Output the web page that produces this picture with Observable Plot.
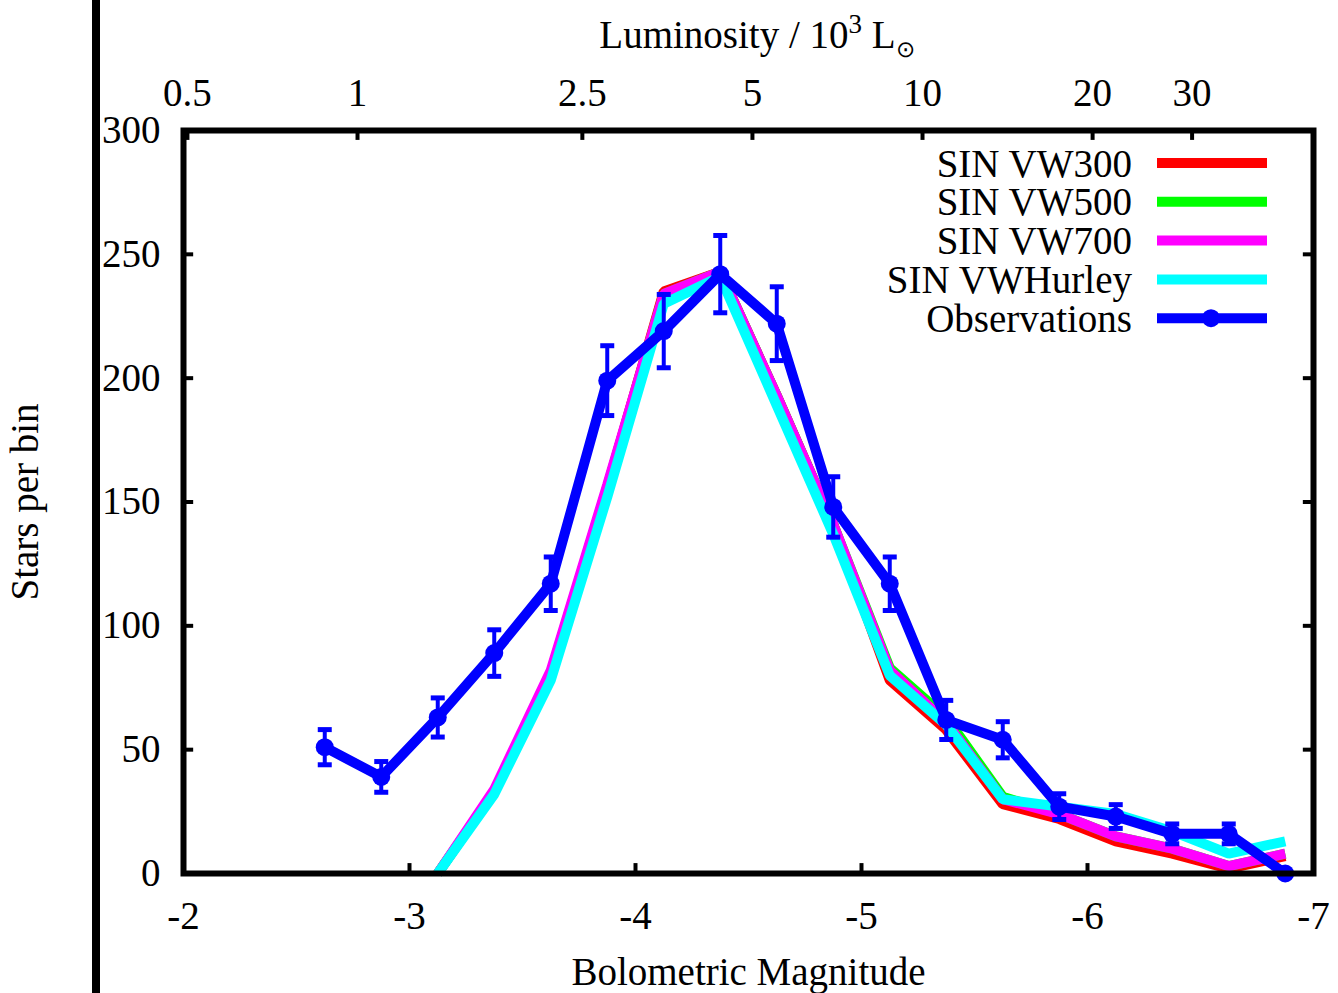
<!DOCTYPE html>
<html><head><meta charset="utf-8">
<script src="https://cdn.jsdelivr.net/npm/d3@7"></script>
<script src="https://cdn.jsdelivr.net/npm/@observablehq/plot@0.6"></script>
<style>
body{margin:0;background:#fff;}
#wrap{position:relative;width:1338px;height:993px;overflow:hidden;}
#bar{position:absolute;left:92px;top:0;width:8px;height:993px;background:#000;z-index:2;}
</style></head><body><div id="wrap"></div>
<script>
// ---- data ----
const obsMag = [-2.625,-2.875,-3.125,-3.375,-3.625,-3.875,-4.125,-4.375,-4.625,-4.875,-5.125,-5.375,-5.625,-5.875,-6.125,-6.375,-6.625,-6.875];
const obsCounts = [51,39,63,89,117,199,219,242,222,148,117,62,54,27,23,16,16,0];
const obsErr = [7.1,6.2,7.9,9.4,10.8,14.1,14.8,15.6,14.9,12.2,10.8,7.9,7.3,5.2,4.8,4.0,4.0,0];

const modelMag = [-3.125,-3.375,-3.625,-3.875,-4.125,-4.375,-4.625,-4.875,-5.125,-5.375,-5.625,-5.875,-6.125,-6.375,-6.625,-6.875];
const vw300 =    [0,33,81,156,235,243,193,141,78,58,28,22,13,8,2,7];
const vw500 =    [0,33,81,156,234,243,193,141,83,63,31,24,15,10,3,8];
const vw700 =    [0,34,82,157,234,243,193,141,82,61,30,24,15,10,3,8];
const vwHurley = [0,32,78,152,230,241,189,137,80,60,30,27,24,17,8,13];

const seriesNames = ["SIN VW300","SIN VW500","SIN VW700","SIN VWHurley","Observations"];
const seriesColors = ["#ff0000","#00ff00","#ff00ff","#00ffff","#0000ff"];

const xTicks = [-2,-3,-4,-5,-6,-7];
const yTicks = [0,50,100,150,200,250,300];
const lumTicks = [0.5,1,2.5,5,10,20,30];   // in 10^3 Lsun
const M_SUN = 4.73;
const lumToMag = L => M_SUN - 2.5*Math.log10(L*1000);

// ---- tables ----
const obs = obsMag.map((m,i)=>({m, n: obsCounts[i], e: obsErr[i]}));
const obsErrPts = obs.filter(d=>d.e>0);
const models = [vw300, vw500, vw700, vwHurley].map(vals => modelMag.map((m,i)=>({m, n: vals[i]})));

const capSymbol = {draw(ctx, size){ const r = Math.sqrt(size/Math.PI); ctx.moveTo(-r,0); ctx.lineTo(r,0); }};
const FS = 39;
const blue = seriesColors[4];

const plot = Plot.plot({
  width:1338, height:993,
  marginLeft:183, marginRight:25, marginTop:130, marginBottom:120,
  style:{fontFamily:"'Liberation Serif','Times New Roman',serif", fontSize:FS+"px", background:"white", color:"black"},
  x:{domain:[-2,-7]},
  y:{domain:[0,300]},
  marks:[
    ...models.map((data,i)=>Plot.line(data,{x:"m", y:"n", stroke:seriesColors[i], strokeWidth:10, strokeLinejoin:"miter", strokeLinecap:"butt"})),
    Plot.ruleX(obsErrPts,{x:"m", y1:d=>d.n-d.e, y2:d=>d.n+d.e, stroke:blue, strokeWidth:4}),
    Plot.dot(obsErrPts,{x:"m", y:d=>d.n+d.e, symbol:capSymbol, r:7, stroke:blue, strokeWidth:5, fill:"none"}),
    Plot.dot(obsErrPts,{x:"m", y:d=>d.n-d.e, symbol:capSymbol, r:7, stroke:blue, strokeWidth:5, fill:"none"}),
    Plot.line(obs,{x:"m", y:"n", stroke:blue, strokeWidth:10, strokeLinejoin:"miter", strokeLinecap:"butt"}),
    Plot.dot(obs,{x:"m", y:"n", r:9, fill:blue}),
    // inward ticks
    Plot.ruleX(xTicks.slice(1,-1),{x:d=>d, y1:0, y2:4, strokeWidth:4}),
    Plot.ruleX(lumTicks,{x:lumToMag, y1:300, y2:296, strokeWidth:4}),
    Plot.ruleY(yTicks.slice(1,-1),{y:d=>d, x1:-2, x2:-2.045, strokeWidth:4}),
    Plot.ruleY(yTicks.slice(1,-1),{y:d=>d, x1:-7, x2:-6.955, strokeWidth:4}),
    Plot.frame({strokeWidth:6}),
    Plot.axisX({anchor:"bottom", ticks:xTicks, tickSize:0, tickPadding:28, tickFormat:d=>String(d), fontSize:FS, label:null}),
    Plot.axisY({anchor:"left", ticks:yTicks, tickSize:0, tickPadding:23, tickFormat:d=>String(d), fontSize:FS, label:null}),
    Plot.text(lumTicks,{x:lumToMag, frameAnchor:"top", lineAnchor:"middle", dy:-37, text:d=>String(d), fontSize:FS}),
    Plot.text(["Bolometric Magnitude"],{frameAnchor:"bottom", lineAnchor:"middle", dy:99, fontSize:FS}),
    Plot.text(["Stars per bin"],{frameAnchor:"left", textAnchor:"middle", lineAnchor:"middle", dx:-158, rotate:-90, fontSize:FS})
  ]
});

const svg = d3.select(plot);
// top axis title with superscript / subscript
const t = svg.append("text").attr("x",757).attr("y",48).attr("text-anchor","middle").attr("font-size",FS).attr("fill","black");
t.append("tspan").text("Luminosity / 10");
t.append("tspan").attr("dy",-15).attr("font-size",27).text("3");
t.append("tspan").attr("dy",15).text(" L");
t.append("tspan").attr("dy",9).attr("font-size",23).text("\u2299");

// legend
const lg = svg.append("g");
seriesNames.forEach((name,i)=>{
  const y = 163 + i*38.8;
  lg.append("text").attr("x",1132).attr("y",y).attr("dy","0.35em").attr("text-anchor","end").attr("font-size",FS).attr("fill","black").text(name);
  lg.append("line").attr("x1",1157).attr("x2",1267).attr("y1",y).attr("y2",y).attr("stroke",seriesColors[i]).attr("stroke-width",10);
  if (i===4) lg.append("circle").attr("cx",1211).attr("cy",y).attr("r",9).attr("fill",seriesColors[i]);
});

const wrap = document.getElementById("wrap");
wrap.appendChild(plot);
const bar = document.createElement("div"); bar.id="bar"; wrap.appendChild(bar);
</script>
</body></html>
